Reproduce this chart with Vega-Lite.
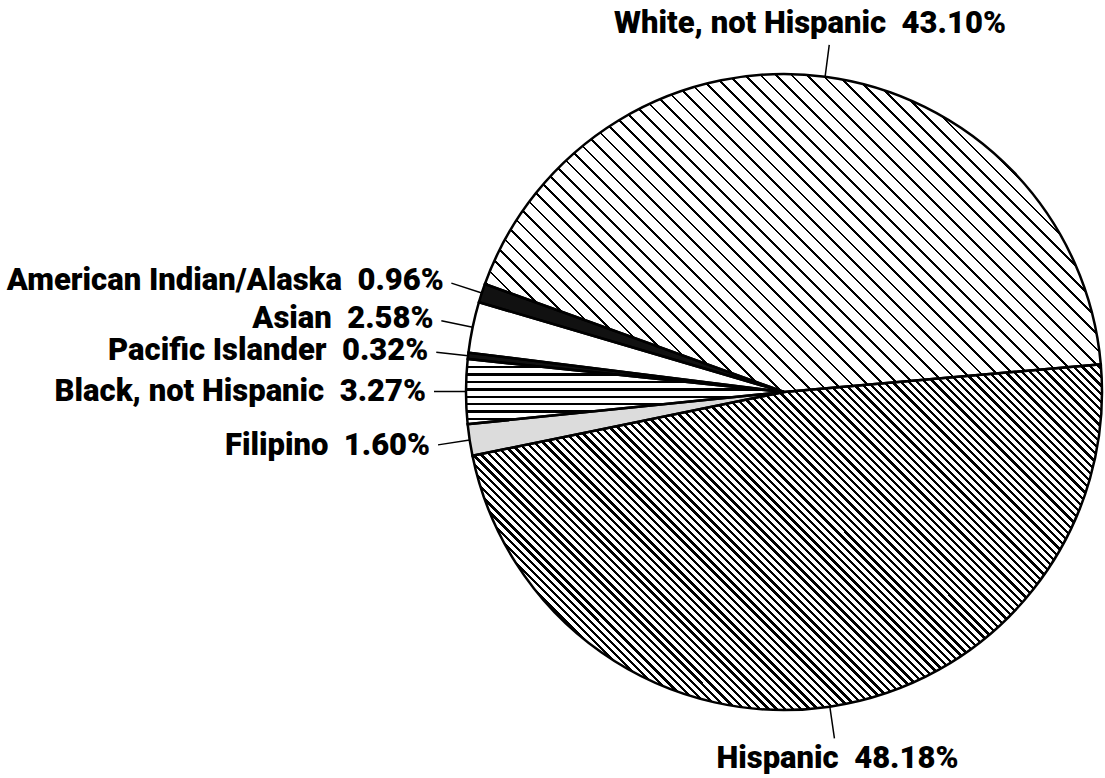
{
"$schema":"https://vega.github.io/schema/vega-lite/v6.json",
"width":636,"height":636,
"autosize":{"type":"none"},
"padding":{"left":466,"top":74,"right":3,"bottom":68},
"background":"white",
"config":{"view":{"stroke":null}},
"data":{"values":[
{"group":"Hispanic","pct":48.18,"order":1},
{"group":"Filipino","pct":1.60,"order":2},
{"group":"Black, not Hispanic","pct":3.27,"order":3},
{"group":"Pacific Islander","pct":0.32,"order":4},
{"group":"Asian","pct":2.58,"order":5},
{"group":"American Indian/Alaska","pct":0.96,"order":6},
{"group":"White, not Hispanic","pct":43.10,"order":7}
]},
"transform":[
{"stack":"pct","groupby":[],"sort":[{"field":"order","order":"ascending"}],"as":["t0","t1"]},
{"calculate":"(datum.t0+datum.t1)/2","as":"mid"},
{"calculate":"datum.group + ' \u00a0' + format(datum.pct, '.2f') + '%'","as":"label"}
],
"layer":[
{"mark":{"type":"arc","outerRadius":318},
 "encoding":{
  "theta":{"field":"t0","type":"quantitative","scale":{"domain":[0,100.01],"range":[1.48353,7.76672]}},
  "theta2":{"field":"t1"},
  "fill":{"field":"group","type":"nominal","legend":null,"scale":{"domain":["Hispanic","Filipino","Black, not Hispanic","Pacific Islander","Asian","American Indian/Alaska","White, not Hispanic"],"range":["#ffffff","#dcdcdc","#ffffff","#111111","#ffffff","#111111","#ffffff"]}}
 }},
{"transform":[{"filter":"datum.group == 'White, not Hispanic'"}],
 "mark":{"type":"arc","outerRadius":318,"fill":{"gradient":"linear","x1":0,"y1":1,"x2":1.99417,"y2":-0.02963,"stops":[
{"offset":0,"color":"#000"},{"offset":0.0017,"color":"#000"},{"offset":0.0017,"color":"#fff"},{"offset":0.01,"color":"#fff"},
{"offset":0.01,"color":"#000"},{"offset":0.0117,"color":"#000"},{"offset":0.0117,"color":"#fff"},{"offset":0.02,"color":"#fff"},
{"offset":0.02,"color":"#000"},{"offset":0.0217,"color":"#000"},{"offset":0.0217,"color":"#fff"},{"offset":0.03,"color":"#fff"},
{"offset":0.03,"color":"#000"},{"offset":0.0317,"color":"#000"},{"offset":0.0317,"color":"#fff"},{"offset":0.04,"color":"#fff"},
{"offset":0.04,"color":"#000"},{"offset":0.0417,"color":"#000"},{"offset":0.0417,"color":"#fff"},{"offset":0.05,"color":"#fff"},
{"offset":0.05,"color":"#000"},{"offset":0.0517,"color":"#000"},{"offset":0.0517,"color":"#fff"},{"offset":0.06,"color":"#fff"},
{"offset":0.06,"color":"#000"},{"offset":0.0617,"color":"#000"},{"offset":0.0617,"color":"#fff"},{"offset":0.07,"color":"#fff"},
{"offset":0.07,"color":"#000"},{"offset":0.0717,"color":"#000"},{"offset":0.0717,"color":"#fff"},{"offset":0.08,"color":"#fff"},
{"offset":0.08,"color":"#000"},{"offset":0.0817,"color":"#000"},{"offset":0.0817,"color":"#fff"},{"offset":0.09,"color":"#fff"},
{"offset":0.09,"color":"#000"},{"offset":0.0917,"color":"#000"},{"offset":0.0917,"color":"#fff"},{"offset":0.1,"color":"#fff"},
{"offset":0.1,"color":"#000"},{"offset":0.1017,"color":"#000"},{"offset":0.1017,"color":"#fff"},{"offset":0.11,"color":"#fff"},
{"offset":0.11,"color":"#000"},{"offset":0.1117,"color":"#000"},{"offset":0.1117,"color":"#fff"},{"offset":0.12,"color":"#fff"},
{"offset":0.12,"color":"#000"},{"offset":0.1217,"color":"#000"},{"offset":0.1217,"color":"#fff"},{"offset":0.13,"color":"#fff"},
{"offset":0.13,"color":"#000"},{"offset":0.1317,"color":"#000"},{"offset":0.1317,"color":"#fff"},{"offset":0.14,"color":"#fff"},
{"offset":0.14,"color":"#000"},{"offset":0.1417,"color":"#000"},{"offset":0.1417,"color":"#fff"},{"offset":0.15,"color":"#fff"},
{"offset":0.15,"color":"#000"},{"offset":0.1517,"color":"#000"},{"offset":0.1517,"color":"#fff"},{"offset":0.16,"color":"#fff"},
{"offset":0.16,"color":"#000"},{"offset":0.1617,"color":"#000"},{"offset":0.1617,"color":"#fff"},{"offset":0.17,"color":"#fff"},
{"offset":0.17,"color":"#000"},{"offset":0.1717,"color":"#000"},{"offset":0.1717,"color":"#fff"},{"offset":0.18,"color":"#fff"},
{"offset":0.18,"color":"#000"},{"offset":0.1817,"color":"#000"},{"offset":0.1817,"color":"#fff"},{"offset":0.19,"color":"#fff"},
{"offset":0.19,"color":"#000"},{"offset":0.1917,"color":"#000"},{"offset":0.1917,"color":"#fff"},{"offset":0.2,"color":"#fff"},
{"offset":0.2,"color":"#000"},{"offset":0.2017,"color":"#000"},{"offset":0.2017,"color":"#fff"},{"offset":0.21,"color":"#fff"},
{"offset":0.21,"color":"#000"},{"offset":0.2117,"color":"#000"},{"offset":0.2117,"color":"#fff"},{"offset":0.22,"color":"#fff"},
{"offset":0.22,"color":"#000"},{"offset":0.2217,"color":"#000"},{"offset":0.2217,"color":"#fff"},{"offset":0.23,"color":"#fff"},
{"offset":0.23,"color":"#000"},{"offset":0.2317,"color":"#000"},{"offset":0.2317,"color":"#fff"},{"offset":0.24,"color":"#fff"},
{"offset":0.24,"color":"#000"},{"offset":0.2417,"color":"#000"},{"offset":0.2417,"color":"#fff"},{"offset":0.25,"color":"#fff"},
{"offset":0.25,"color":"#000"},{"offset":0.2517,"color":"#000"},{"offset":0.2517,"color":"#fff"},{"offset":0.26,"color":"#fff"},
{"offset":0.26,"color":"#000"},{"offset":0.2617,"color":"#000"},{"offset":0.2617,"color":"#fff"},{"offset":0.27,"color":"#fff"},
{"offset":0.27,"color":"#000"},{"offset":0.2717,"color":"#000"},{"offset":0.2717,"color":"#fff"},{"offset":0.28,"color":"#fff"},
{"offset":0.28,"color":"#000"},{"offset":0.2817,"color":"#000"},{"offset":0.2817,"color":"#fff"},{"offset":0.29,"color":"#fff"},
{"offset":0.29,"color":"#000"},{"offset":0.2917,"color":"#000"},{"offset":0.2917,"color":"#fff"},{"offset":0.3,"color":"#fff"},
{"offset":0.3,"color":"#000"},{"offset":0.3017,"color":"#000"},{"offset":0.3017,"color":"#fff"},{"offset":0.31,"color":"#fff"},
{"offset":0.31,"color":"#000"},{"offset":0.3117,"color":"#000"},{"offset":0.3117,"color":"#fff"},{"offset":0.32,"color":"#fff"},
{"offset":0.32,"color":"#000"},{"offset":0.3217,"color":"#000"},{"offset":0.3217,"color":"#fff"},{"offset":0.33,"color":"#fff"},
{"offset":0.33,"color":"#000"},{"offset":0.3317,"color":"#000"},{"offset":0.3317,"color":"#fff"},{"offset":0.34,"color":"#fff"},
{"offset":0.34,"color":"#000"},{"offset":0.3417,"color":"#000"},{"offset":0.3417,"color":"#fff"},{"offset":0.35,"color":"#fff"},
{"offset":0.35,"color":"#000"},{"offset":0.3517,"color":"#000"},{"offset":0.3517,"color":"#fff"},{"offset":0.36,"color":"#fff"},
{"offset":0.36,"color":"#000"},{"offset":0.3617,"color":"#000"},{"offset":0.3617,"color":"#fff"},{"offset":0.37,"color":"#fff"},
{"offset":0.37,"color":"#000"},{"offset":0.3717,"color":"#000"},{"offset":0.3717,"color":"#fff"},{"offset":0.38,"color":"#fff"},
{"offset":0.38,"color":"#000"},{"offset":0.3817,"color":"#000"},{"offset":0.3817,"color":"#fff"},{"offset":0.39,"color":"#fff"},
{"offset":0.39,"color":"#000"},{"offset":0.3917,"color":"#000"},{"offset":0.3917,"color":"#fff"},{"offset":0.4,"color":"#fff"},
{"offset":0.4,"color":"#000"},{"offset":0.4017,"color":"#000"},{"offset":0.4017,"color":"#fff"},{"offset":0.41,"color":"#fff"},
{"offset":0.41,"color":"#000"},{"offset":0.4117,"color":"#000"},{"offset":0.4117,"color":"#fff"},{"offset":0.42,"color":"#fff"},
{"offset":0.42,"color":"#000"},{"offset":0.4217,"color":"#000"},{"offset":0.4217,"color":"#fff"},{"offset":0.43,"color":"#fff"},
{"offset":0.43,"color":"#000"},{"offset":0.4317,"color":"#000"},{"offset":0.4317,"color":"#fff"},{"offset":0.44,"color":"#fff"},
{"offset":0.44,"color":"#000"},{"offset":0.4417,"color":"#000"},{"offset":0.4417,"color":"#fff"},{"offset":0.45,"color":"#fff"},
{"offset":0.45,"color":"#000"},{"offset":0.4517,"color":"#000"},{"offset":0.4517,"color":"#fff"},{"offset":0.46,"color":"#fff"},
{"offset":0.46,"color":"#000"},{"offset":0.4617,"color":"#000"},{"offset":0.4617,"color":"#fff"},{"offset":0.47,"color":"#fff"},
{"offset":0.47,"color":"#000"},{"offset":0.4717,"color":"#000"},{"offset":0.4717,"color":"#fff"},{"offset":0.48,"color":"#fff"},
{"offset":0.48,"color":"#000"},{"offset":0.4817,"color":"#000"},{"offset":0.4817,"color":"#fff"},{"offset":0.49,"color":"#fff"},
{"offset":0.49,"color":"#000"},{"offset":0.4917,"color":"#000"},{"offset":0.4917,"color":"#fff"},{"offset":0.5,"color":"#fff"},
{"offset":0.5,"color":"#000"},{"offset":0.5017,"color":"#000"},{"offset":0.5017,"color":"#fff"},{"offset":0.51,"color":"#fff"},
{"offset":0.51,"color":"#000"},{"offset":0.5117,"color":"#000"},{"offset":0.5117,"color":"#fff"},{"offset":0.52,"color":"#fff"},
{"offset":0.52,"color":"#000"},{"offset":0.5217,"color":"#000"},{"offset":0.5217,"color":"#fff"},{"offset":0.53,"color":"#fff"},
{"offset":0.53,"color":"#000"},{"offset":0.5317,"color":"#000"},{"offset":0.5317,"color":"#fff"},{"offset":0.54,"color":"#fff"},
{"offset":0.54,"color":"#000"},{"offset":0.5417,"color":"#000"},{"offset":0.5417,"color":"#fff"},{"offset":0.55,"color":"#fff"},
{"offset":0.55,"color":"#000"},{"offset":0.5517,"color":"#000"},{"offset":0.5517,"color":"#fff"},{"offset":0.56,"color":"#fff"},
{"offset":0.56,"color":"#000"},{"offset":0.5617,"color":"#000"},{"offset":0.5617,"color":"#fff"},{"offset":0.57,"color":"#fff"},
{"offset":0.57,"color":"#000"},{"offset":0.5717,"color":"#000"},{"offset":0.5717,"color":"#fff"},{"offset":0.58,"color":"#fff"},
{"offset":0.58,"color":"#000"},{"offset":0.5817,"color":"#000"},{"offset":0.5817,"color":"#fff"},{"offset":0.59,"color":"#fff"},
{"offset":0.59,"color":"#000"},{"offset":0.5917,"color":"#000"},{"offset":0.5917,"color":"#fff"},{"offset":0.6,"color":"#fff"},
{"offset":0.6,"color":"#000"},{"offset":0.6017,"color":"#000"},{"offset":0.6017,"color":"#fff"},{"offset":1,"color":"#fff"}
]}},
 "encoding":{
  "theta":{"field":"t0","type":"quantitative","scale":{"domain":[0,100.01],"range":[1.48353,7.76672]}},
  "theta2":{"field":"t1"}
 }},
{"transform":[{"filter":"datum.group == 'Hispanic'"}],
 "mark":{"type":"arc","outerRadius":318,"fill":{"gradient":"linear","x1":0,"y1":1,"x2":2.00203,"y2":-0.09927,"stops":[
{"offset":0,"color":"#000"},{"offset":0.002,"color":"#000"},{"offset":0.002,"color":"#fff"},{"offset":0.005,"color":"#fff"},{"offset":0.005,"color":"#000"},{"offset":0.007,"color":"#000"},{"offset":0.007,"color":"#fff"},{"offset":0.01,"color":"#fff"},
{"offset":0.01,"color":"#000"},{"offset":0.012,"color":"#000"},{"offset":0.012,"color":"#fff"},{"offset":0.015,"color":"#fff"},{"offset":0.015,"color":"#000"},{"offset":0.017,"color":"#000"},{"offset":0.017,"color":"#fff"},{"offset":0.02,"color":"#fff"},
{"offset":0.02,"color":"#000"},{"offset":0.022,"color":"#000"},{"offset":0.022,"color":"#fff"},{"offset":0.025,"color":"#fff"},{"offset":0.025,"color":"#000"},{"offset":0.027,"color":"#000"},{"offset":0.027,"color":"#fff"},{"offset":0.03,"color":"#fff"},
{"offset":0.03,"color":"#000"},{"offset":0.032,"color":"#000"},{"offset":0.032,"color":"#fff"},{"offset":0.035,"color":"#fff"},{"offset":0.035,"color":"#000"},{"offset":0.037,"color":"#000"},{"offset":0.037,"color":"#fff"},{"offset":0.04,"color":"#fff"},
{"offset":0.04,"color":"#000"},{"offset":0.042,"color":"#000"},{"offset":0.042,"color":"#fff"},{"offset":0.045,"color":"#fff"},{"offset":0.045,"color":"#000"},{"offset":0.047,"color":"#000"},{"offset":0.047,"color":"#fff"},{"offset":0.05,"color":"#fff"},
{"offset":0.05,"color":"#000"},{"offset":0.052,"color":"#000"},{"offset":0.052,"color":"#fff"},{"offset":0.055,"color":"#fff"},{"offset":0.055,"color":"#000"},{"offset":0.057,"color":"#000"},{"offset":0.057,"color":"#fff"},{"offset":0.06,"color":"#fff"},
{"offset":0.06,"color":"#000"},{"offset":0.062,"color":"#000"},{"offset":0.062,"color":"#fff"},{"offset":0.065,"color":"#fff"},{"offset":0.065,"color":"#000"},{"offset":0.067,"color":"#000"},{"offset":0.067,"color":"#fff"},{"offset":0.07,"color":"#fff"},
{"offset":0.07,"color":"#000"},{"offset":0.072,"color":"#000"},{"offset":0.072,"color":"#fff"},{"offset":0.075,"color":"#fff"},{"offset":0.075,"color":"#000"},{"offset":0.077,"color":"#000"},{"offset":0.077,"color":"#fff"},{"offset":0.08,"color":"#fff"},
{"offset":0.08,"color":"#000"},{"offset":0.082,"color":"#000"},{"offset":0.082,"color":"#fff"},{"offset":0.085,"color":"#fff"},{"offset":0.085,"color":"#000"},{"offset":0.087,"color":"#000"},{"offset":0.087,"color":"#fff"},{"offset":0.09,"color":"#fff"},
{"offset":0.09,"color":"#000"},{"offset":0.092,"color":"#000"},{"offset":0.092,"color":"#fff"},{"offset":0.095,"color":"#fff"},{"offset":0.095,"color":"#000"},{"offset":0.097,"color":"#000"},{"offset":0.097,"color":"#fff"},{"offset":0.1,"color":"#fff"},
{"offset":0.1,"color":"#000"},{"offset":0.102,"color":"#000"},{"offset":0.102,"color":"#fff"},{"offset":0.105,"color":"#fff"},{"offset":0.105,"color":"#000"},{"offset":0.107,"color":"#000"},{"offset":0.107,"color":"#fff"},{"offset":0.11,"color":"#fff"},
{"offset":0.11,"color":"#000"},{"offset":0.112,"color":"#000"},{"offset":0.112,"color":"#fff"},{"offset":0.115,"color":"#fff"},{"offset":0.115,"color":"#000"},{"offset":0.117,"color":"#000"},{"offset":0.117,"color":"#fff"},{"offset":0.12,"color":"#fff"},
{"offset":0.12,"color":"#000"},{"offset":0.122,"color":"#000"},{"offset":0.122,"color":"#fff"},{"offset":0.125,"color":"#fff"},{"offset":0.125,"color":"#000"},{"offset":0.127,"color":"#000"},{"offset":0.127,"color":"#fff"},{"offset":0.13,"color":"#fff"},
{"offset":0.13,"color":"#000"},{"offset":0.132,"color":"#000"},{"offset":0.132,"color":"#fff"},{"offset":0.135,"color":"#fff"},{"offset":0.135,"color":"#000"},{"offset":0.137,"color":"#000"},{"offset":0.137,"color":"#fff"},{"offset":0.14,"color":"#fff"},
{"offset":0.14,"color":"#000"},{"offset":0.142,"color":"#000"},{"offset":0.142,"color":"#fff"},{"offset":0.145,"color":"#fff"},{"offset":0.145,"color":"#000"},{"offset":0.147,"color":"#000"},{"offset":0.147,"color":"#fff"},{"offset":0.15,"color":"#fff"},
{"offset":0.15,"color":"#000"},{"offset":0.152,"color":"#000"},{"offset":0.152,"color":"#fff"},{"offset":0.155,"color":"#fff"},{"offset":0.155,"color":"#000"},{"offset":0.157,"color":"#000"},{"offset":0.157,"color":"#fff"},{"offset":0.16,"color":"#fff"},
{"offset":0.16,"color":"#000"},{"offset":0.162,"color":"#000"},{"offset":0.162,"color":"#fff"},{"offset":0.165,"color":"#fff"},{"offset":0.165,"color":"#000"},{"offset":0.167,"color":"#000"},{"offset":0.167,"color":"#fff"},{"offset":0.17,"color":"#fff"},
{"offset":0.17,"color":"#000"},{"offset":0.172,"color":"#000"},{"offset":0.172,"color":"#fff"},{"offset":0.175,"color":"#fff"},{"offset":0.175,"color":"#000"},{"offset":0.177,"color":"#000"},{"offset":0.177,"color":"#fff"},{"offset":0.18,"color":"#fff"},
{"offset":0.18,"color":"#000"},{"offset":0.182,"color":"#000"},{"offset":0.182,"color":"#fff"},{"offset":0.185,"color":"#fff"},{"offset":0.185,"color":"#000"},{"offset":0.187,"color":"#000"},{"offset":0.187,"color":"#fff"},{"offset":0.19,"color":"#fff"},
{"offset":0.19,"color":"#000"},{"offset":0.192,"color":"#000"},{"offset":0.192,"color":"#fff"},{"offset":0.195,"color":"#fff"},{"offset":0.195,"color":"#000"},{"offset":0.197,"color":"#000"},{"offset":0.197,"color":"#fff"},{"offset":0.2,"color":"#fff"},
{"offset":0.2,"color":"#000"},{"offset":0.202,"color":"#000"},{"offset":0.202,"color":"#fff"},{"offset":0.205,"color":"#fff"},{"offset":0.205,"color":"#000"},{"offset":0.207,"color":"#000"},{"offset":0.207,"color":"#fff"},{"offset":0.21,"color":"#fff"},
{"offset":0.21,"color":"#000"},{"offset":0.212,"color":"#000"},{"offset":0.212,"color":"#fff"},{"offset":0.215,"color":"#fff"},{"offset":0.215,"color":"#000"},{"offset":0.217,"color":"#000"},{"offset":0.217,"color":"#fff"},{"offset":0.22,"color":"#fff"},
{"offset":0.22,"color":"#000"},{"offset":0.222,"color":"#000"},{"offset":0.222,"color":"#fff"},{"offset":0.225,"color":"#fff"},{"offset":0.225,"color":"#000"},{"offset":0.227,"color":"#000"},{"offset":0.227,"color":"#fff"},{"offset":0.23,"color":"#fff"},
{"offset":0.23,"color":"#000"},{"offset":0.232,"color":"#000"},{"offset":0.232,"color":"#fff"},{"offset":0.235,"color":"#fff"},{"offset":0.235,"color":"#000"},{"offset":0.237,"color":"#000"},{"offset":0.237,"color":"#fff"},{"offset":0.24,"color":"#fff"},
{"offset":0.24,"color":"#000"},{"offset":0.242,"color":"#000"},{"offset":0.242,"color":"#fff"},{"offset":0.245,"color":"#fff"},{"offset":0.245,"color":"#000"},{"offset":0.247,"color":"#000"},{"offset":0.247,"color":"#fff"},{"offset":0.25,"color":"#fff"},
{"offset":0.25,"color":"#000"},{"offset":0.252,"color":"#000"},{"offset":0.252,"color":"#fff"},{"offset":0.255,"color":"#fff"},{"offset":0.255,"color":"#000"},{"offset":0.257,"color":"#000"},{"offset":0.257,"color":"#fff"},{"offset":0.26,"color":"#fff"},
{"offset":0.26,"color":"#000"},{"offset":0.262,"color":"#000"},{"offset":0.262,"color":"#fff"},{"offset":0.265,"color":"#fff"},{"offset":0.265,"color":"#000"},{"offset":0.267,"color":"#000"},{"offset":0.267,"color":"#fff"},{"offset":0.27,"color":"#fff"},
{"offset":0.27,"color":"#000"},{"offset":0.272,"color":"#000"},{"offset":0.272,"color":"#fff"},{"offset":0.275,"color":"#fff"},{"offset":0.275,"color":"#000"},{"offset":0.277,"color":"#000"},{"offset":0.277,"color":"#fff"},{"offset":0.28,"color":"#fff"},
{"offset":0.28,"color":"#000"},{"offset":0.282,"color":"#000"},{"offset":0.282,"color":"#fff"},{"offset":0.285,"color":"#fff"},{"offset":0.285,"color":"#000"},{"offset":0.287,"color":"#000"},{"offset":0.287,"color":"#fff"},{"offset":0.29,"color":"#fff"},
{"offset":0.29,"color":"#000"},{"offset":0.292,"color":"#000"},{"offset":0.292,"color":"#fff"},{"offset":0.295,"color":"#fff"},{"offset":0.295,"color":"#000"},{"offset":0.297,"color":"#000"},{"offset":0.297,"color":"#fff"},{"offset":0.3,"color":"#fff"},
{"offset":0.3,"color":"#000"},{"offset":0.302,"color":"#000"},{"offset":0.302,"color":"#fff"},{"offset":0.305,"color":"#fff"},{"offset":0.305,"color":"#000"},{"offset":0.307,"color":"#000"},{"offset":0.307,"color":"#fff"},{"offset":0.31,"color":"#fff"},
{"offset":0.31,"color":"#000"},{"offset":0.312,"color":"#000"},{"offset":0.312,"color":"#fff"},{"offset":0.315,"color":"#fff"},{"offset":0.315,"color":"#000"},{"offset":0.317,"color":"#000"},{"offset":0.317,"color":"#fff"},{"offset":0.32,"color":"#fff"},
{"offset":0.32,"color":"#000"},{"offset":0.322,"color":"#000"},{"offset":0.322,"color":"#fff"},{"offset":0.325,"color":"#fff"},{"offset":0.325,"color":"#000"},{"offset":0.327,"color":"#000"},{"offset":0.327,"color":"#fff"},{"offset":0.33,"color":"#fff"},
{"offset":0.33,"color":"#000"},{"offset":0.332,"color":"#000"},{"offset":0.332,"color":"#fff"},{"offset":0.335,"color":"#fff"},{"offset":0.335,"color":"#000"},{"offset":0.337,"color":"#000"},{"offset":0.337,"color":"#fff"},{"offset":0.34,"color":"#fff"},
{"offset":0.34,"color":"#000"},{"offset":0.342,"color":"#000"},{"offset":0.342,"color":"#fff"},{"offset":0.345,"color":"#fff"},{"offset":0.345,"color":"#000"},{"offset":0.347,"color":"#000"},{"offset":0.347,"color":"#fff"},{"offset":0.35,"color":"#fff"},
{"offset":0.35,"color":"#000"},{"offset":0.352,"color":"#000"},{"offset":0.352,"color":"#fff"},{"offset":0.355,"color":"#fff"},{"offset":0.355,"color":"#000"},{"offset":0.357,"color":"#000"},{"offset":0.357,"color":"#fff"},{"offset":0.36,"color":"#fff"},
{"offset":0.36,"color":"#000"},{"offset":0.362,"color":"#000"},{"offset":0.362,"color":"#fff"},{"offset":0.365,"color":"#fff"},{"offset":0.365,"color":"#000"},{"offset":0.367,"color":"#000"},{"offset":0.367,"color":"#fff"},{"offset":0.37,"color":"#fff"},
{"offset":0.37,"color":"#000"},{"offset":0.372,"color":"#000"},{"offset":0.372,"color":"#fff"},{"offset":0.375,"color":"#fff"},{"offset":0.375,"color":"#000"},{"offset":0.377,"color":"#000"},{"offset":0.377,"color":"#fff"},{"offset":0.38,"color":"#fff"},
{"offset":0.38,"color":"#000"},{"offset":0.382,"color":"#000"},{"offset":0.382,"color":"#fff"},{"offset":0.385,"color":"#fff"},{"offset":0.385,"color":"#000"},{"offset":0.387,"color":"#000"},{"offset":0.387,"color":"#fff"},{"offset":0.39,"color":"#fff"},
{"offset":0.39,"color":"#000"},{"offset":0.392,"color":"#000"},{"offset":0.392,"color":"#fff"},{"offset":0.395,"color":"#fff"},{"offset":0.395,"color":"#000"},{"offset":0.397,"color":"#000"},{"offset":0.397,"color":"#fff"},{"offset":0.4,"color":"#fff"},
{"offset":0.4,"color":"#000"},{"offset":0.402,"color":"#000"},{"offset":0.402,"color":"#fff"},{"offset":0.405,"color":"#fff"},{"offset":0.405,"color":"#000"},{"offset":0.407,"color":"#000"},{"offset":0.407,"color":"#fff"},{"offset":0.41,"color":"#fff"},
{"offset":0.41,"color":"#000"},{"offset":0.412,"color":"#000"},{"offset":0.412,"color":"#fff"},{"offset":0.415,"color":"#fff"},{"offset":0.415,"color":"#000"},{"offset":0.417,"color":"#000"},{"offset":0.417,"color":"#fff"},{"offset":0.42,"color":"#fff"},
{"offset":0.42,"color":"#000"},{"offset":0.422,"color":"#000"},{"offset":0.422,"color":"#fff"},{"offset":0.425,"color":"#fff"},{"offset":0.425,"color":"#000"},{"offset":0.427,"color":"#000"},{"offset":0.427,"color":"#fff"},{"offset":0.43,"color":"#fff"},
{"offset":0.43,"color":"#000"},{"offset":0.432,"color":"#000"},{"offset":0.432,"color":"#fff"},{"offset":0.435,"color":"#fff"},{"offset":0.435,"color":"#000"},{"offset":0.437,"color":"#000"},{"offset":0.437,"color":"#fff"},{"offset":0.44,"color":"#fff"},
{"offset":0.44,"color":"#000"},{"offset":0.442,"color":"#000"},{"offset":0.442,"color":"#fff"},{"offset":0.445,"color":"#fff"},{"offset":0.445,"color":"#000"},{"offset":0.447,"color":"#000"},{"offset":0.447,"color":"#fff"},{"offset":0.45,"color":"#fff"},
{"offset":0.45,"color":"#000"},{"offset":0.452,"color":"#000"},{"offset":0.452,"color":"#fff"},{"offset":0.455,"color":"#fff"},{"offset":0.455,"color":"#000"},{"offset":0.457,"color":"#000"},{"offset":0.457,"color":"#fff"},{"offset":0.46,"color":"#fff"},
{"offset":0.46,"color":"#000"},{"offset":0.462,"color":"#000"},{"offset":0.462,"color":"#fff"},{"offset":0.465,"color":"#fff"},{"offset":0.465,"color":"#000"},{"offset":0.467,"color":"#000"},{"offset":0.467,"color":"#fff"},{"offset":0.47,"color":"#fff"},
{"offset":0.47,"color":"#000"},{"offset":0.472,"color":"#000"},{"offset":0.472,"color":"#fff"},{"offset":0.475,"color":"#fff"},{"offset":0.475,"color":"#000"},{"offset":0.477,"color":"#000"},{"offset":0.477,"color":"#fff"},{"offset":0.48,"color":"#fff"},
{"offset":0.48,"color":"#000"},{"offset":0.482,"color":"#000"},{"offset":0.482,"color":"#fff"},{"offset":0.485,"color":"#fff"},{"offset":0.485,"color":"#000"},{"offset":0.487,"color":"#000"},{"offset":0.487,"color":"#fff"},{"offset":0.49,"color":"#fff"},
{"offset":0.49,"color":"#000"},{"offset":0.492,"color":"#000"},{"offset":0.492,"color":"#fff"},{"offset":0.495,"color":"#fff"},{"offset":0.495,"color":"#000"},{"offset":0.497,"color":"#000"},{"offset":0.497,"color":"#fff"},{"offset":0.5,"color":"#fff"},
{"offset":0.5,"color":"#000"},{"offset":0.502,"color":"#000"},{"offset":0.502,"color":"#fff"},{"offset":0.505,"color":"#fff"},{"offset":0.505,"color":"#000"},{"offset":0.507,"color":"#000"},{"offset":0.507,"color":"#fff"},{"offset":0.51,"color":"#fff"},
{"offset":0.51,"color":"#000"},{"offset":0.512,"color":"#000"},{"offset":0.512,"color":"#fff"},{"offset":0.515,"color":"#fff"},{"offset":0.515,"color":"#000"},{"offset":0.517,"color":"#000"},{"offset":0.517,"color":"#fff"},{"offset":0.52,"color":"#fff"},
{"offset":0.52,"color":"#000"},{"offset":0.522,"color":"#000"},{"offset":0.522,"color":"#fff"},{"offset":0.525,"color":"#fff"},{"offset":0.525,"color":"#000"},{"offset":0.527,"color":"#000"},{"offset":0.527,"color":"#fff"},{"offset":0.53,"color":"#fff"},
{"offset":0.53,"color":"#000"},{"offset":0.532,"color":"#000"},{"offset":0.532,"color":"#fff"},{"offset":0.535,"color":"#fff"},{"offset":0.535,"color":"#000"},{"offset":0.537,"color":"#000"},{"offset":0.537,"color":"#fff"},{"offset":0.54,"color":"#fff"},
{"offset":0.54,"color":"#000"},{"offset":0.542,"color":"#000"},{"offset":0.542,"color":"#fff"},{"offset":0.545,"color":"#fff"},{"offset":0.545,"color":"#000"},{"offset":0.547,"color":"#000"},{"offset":0.547,"color":"#fff"},{"offset":0.55,"color":"#fff"},
{"offset":0.55,"color":"#000"},{"offset":0.552,"color":"#000"},{"offset":0.552,"color":"#fff"},{"offset":0.555,"color":"#fff"},{"offset":0.555,"color":"#000"},{"offset":0.557,"color":"#000"},{"offset":0.557,"color":"#fff"},{"offset":0.56,"color":"#fff"},
{"offset":0.56,"color":"#000"},{"offset":0.562,"color":"#000"},{"offset":0.562,"color":"#fff"},{"offset":0.565,"color":"#fff"},{"offset":0.565,"color":"#000"},{"offset":0.567,"color":"#000"},{"offset":0.567,"color":"#fff"},{"offset":0.57,"color":"#fff"},
{"offset":0.57,"color":"#000"},{"offset":0.572,"color":"#000"},{"offset":0.572,"color":"#fff"},{"offset":0.575,"color":"#fff"},{"offset":0.575,"color":"#000"},{"offset":0.577,"color":"#000"},{"offset":0.577,"color":"#fff"},{"offset":0.58,"color":"#fff"},
{"offset":0.58,"color":"#000"},{"offset":0.582,"color":"#000"},{"offset":0.582,"color":"#fff"},{"offset":0.585,"color":"#fff"},{"offset":0.585,"color":"#000"},{"offset":0.587,"color":"#000"},{"offset":0.587,"color":"#fff"},{"offset":0.59,"color":"#fff"},
{"offset":0.59,"color":"#000"},{"offset":0.592,"color":"#000"},{"offset":0.592,"color":"#fff"},{"offset":0.595,"color":"#fff"},{"offset":0.595,"color":"#000"},{"offset":0.597,"color":"#000"},{"offset":0.597,"color":"#fff"},{"offset":1,"color":"#fff"}
]}},
 "encoding":{
  "theta":{"field":"t0","type":"quantitative","scale":{"domain":[0,100.01],"range":[1.48353,7.76672]}},
  "theta2":{"field":"t1"}
 }},
{"transform":[{"filter":"datum.group == 'Black, not Hispanic'"}],
 "mark":{"type":"arc","outerRadius":318,"fill":{"gradient":"linear","x1":0,"y1":0,"x2":0,"y2":1,"stops":[
{"offset":0,"color":"#fff"},{"offset":0.109,"color":"#fff"},{"offset":0.109,"color":"#000"},{"offset":0.144,"color":"#000"},{"offset":0.144,"color":"#fff"},
{"offset":0.2225,"color":"#fff"},{"offset":0.2225,"color":"#000"},{"offset":0.2575,"color":"#000"},{"offset":0.2575,"color":"#fff"},
{"offset":0.336,"color":"#fff"},{"offset":0.336,"color":"#000"},{"offset":0.371,"color":"#000"},{"offset":0.371,"color":"#fff"},
{"offset":0.4495,"color":"#fff"},{"offset":0.4495,"color":"#000"},{"offset":0.4845,"color":"#000"},{"offset":0.4845,"color":"#fff"},
{"offset":0.563,"color":"#fff"},{"offset":0.563,"color":"#000"},{"offset":0.598,"color":"#000"},{"offset":0.598,"color":"#fff"},
{"offset":0.6765,"color":"#fff"},{"offset":0.6765,"color":"#000"},{"offset":0.7115,"color":"#000"},{"offset":0.7115,"color":"#fff"},
{"offset":0.79,"color":"#fff"},{"offset":0.79,"color":"#000"},{"offset":0.825,"color":"#000"},{"offset":0.825,"color":"#fff"},
{"offset":0.9035,"color":"#fff"},{"offset":0.9035,"color":"#000"},{"offset":0.9385,"color":"#000"},{"offset":0.9385,"color":"#fff"},{"offset":1,"color":"#fff"}
]}},
 "encoding":{
  "theta":{"field":"t0","type":"quantitative","scale":{"domain":[0,100.01],"range":[1.48353,7.76672]}},
  "theta2":{"field":"t1"}
 }},
{"mark":{"type":"arc","outerRadius":318,"fill":"transparent","stroke":"#000","strokeWidth":2.5},
 "encoding":{
  "theta":{"field":"t0","type":"quantitative","scale":{"domain":[0,100.01],"range":[1.48353,7.76672]}},
  "theta2":{"field":"t1"}
 }},
{"mark":{"type":"arc","innerRadius":318,"outerRadius":350,"fill":"transparent","stroke":"#000","strokeWidth":1.5},
 "encoding":{
  "theta":{"field":"mid","type":"quantitative","scale":{"domain":[0,100.01],"range":[1.48353,7.76672]}},
  "theta2":{"field":"mid"}
 }},
{"transform":[{"filter":"datum.order >= 2 && datum.order <= 6"}],
 "mark":{"type":"text","radius":358,"align":"right","baseline":"middle","font":"Roboto","fontWeight":900,"fontSize":31,"fill":"#000"},
 "encoding":{
  "theta":{"field":"mid","type":"quantitative","stack":null,"scale":{"domain":[0,100.01],"range":[1.48353,7.76672]}},
  "text":{"field":"label"}
 }},
{"transform":[{"filter":"datum.order == 7"}],
 "mark":{"type":"text","radius":371,"align":"center","baseline":"middle","dx":-22,"font":"Roboto","fontWeight":900,"fontSize":31,"fill":"#000"},
 "encoding":{
  "theta":{"field":"mid","type":"quantitative","stack":null,"scale":{"domain":[0,100.01],"range":[1.48353,7.76672]}},
  "text":{"field":"label"}
 }},
{"transform":[{"filter":"datum.order == 1"}],
 "mark":{"type":"text","radius":371,"align":"center","baseline":"middle","font":"Roboto","fontWeight":900,"fontSize":31,"fill":"#000"},
 "encoding":{
  "theta":{"field":"mid","type":"quantitative","stack":null,"scale":{"domain":[0,100.01],"range":[1.48353,7.76672]}},
  "text":{"field":"label"}
 }}
]
}
